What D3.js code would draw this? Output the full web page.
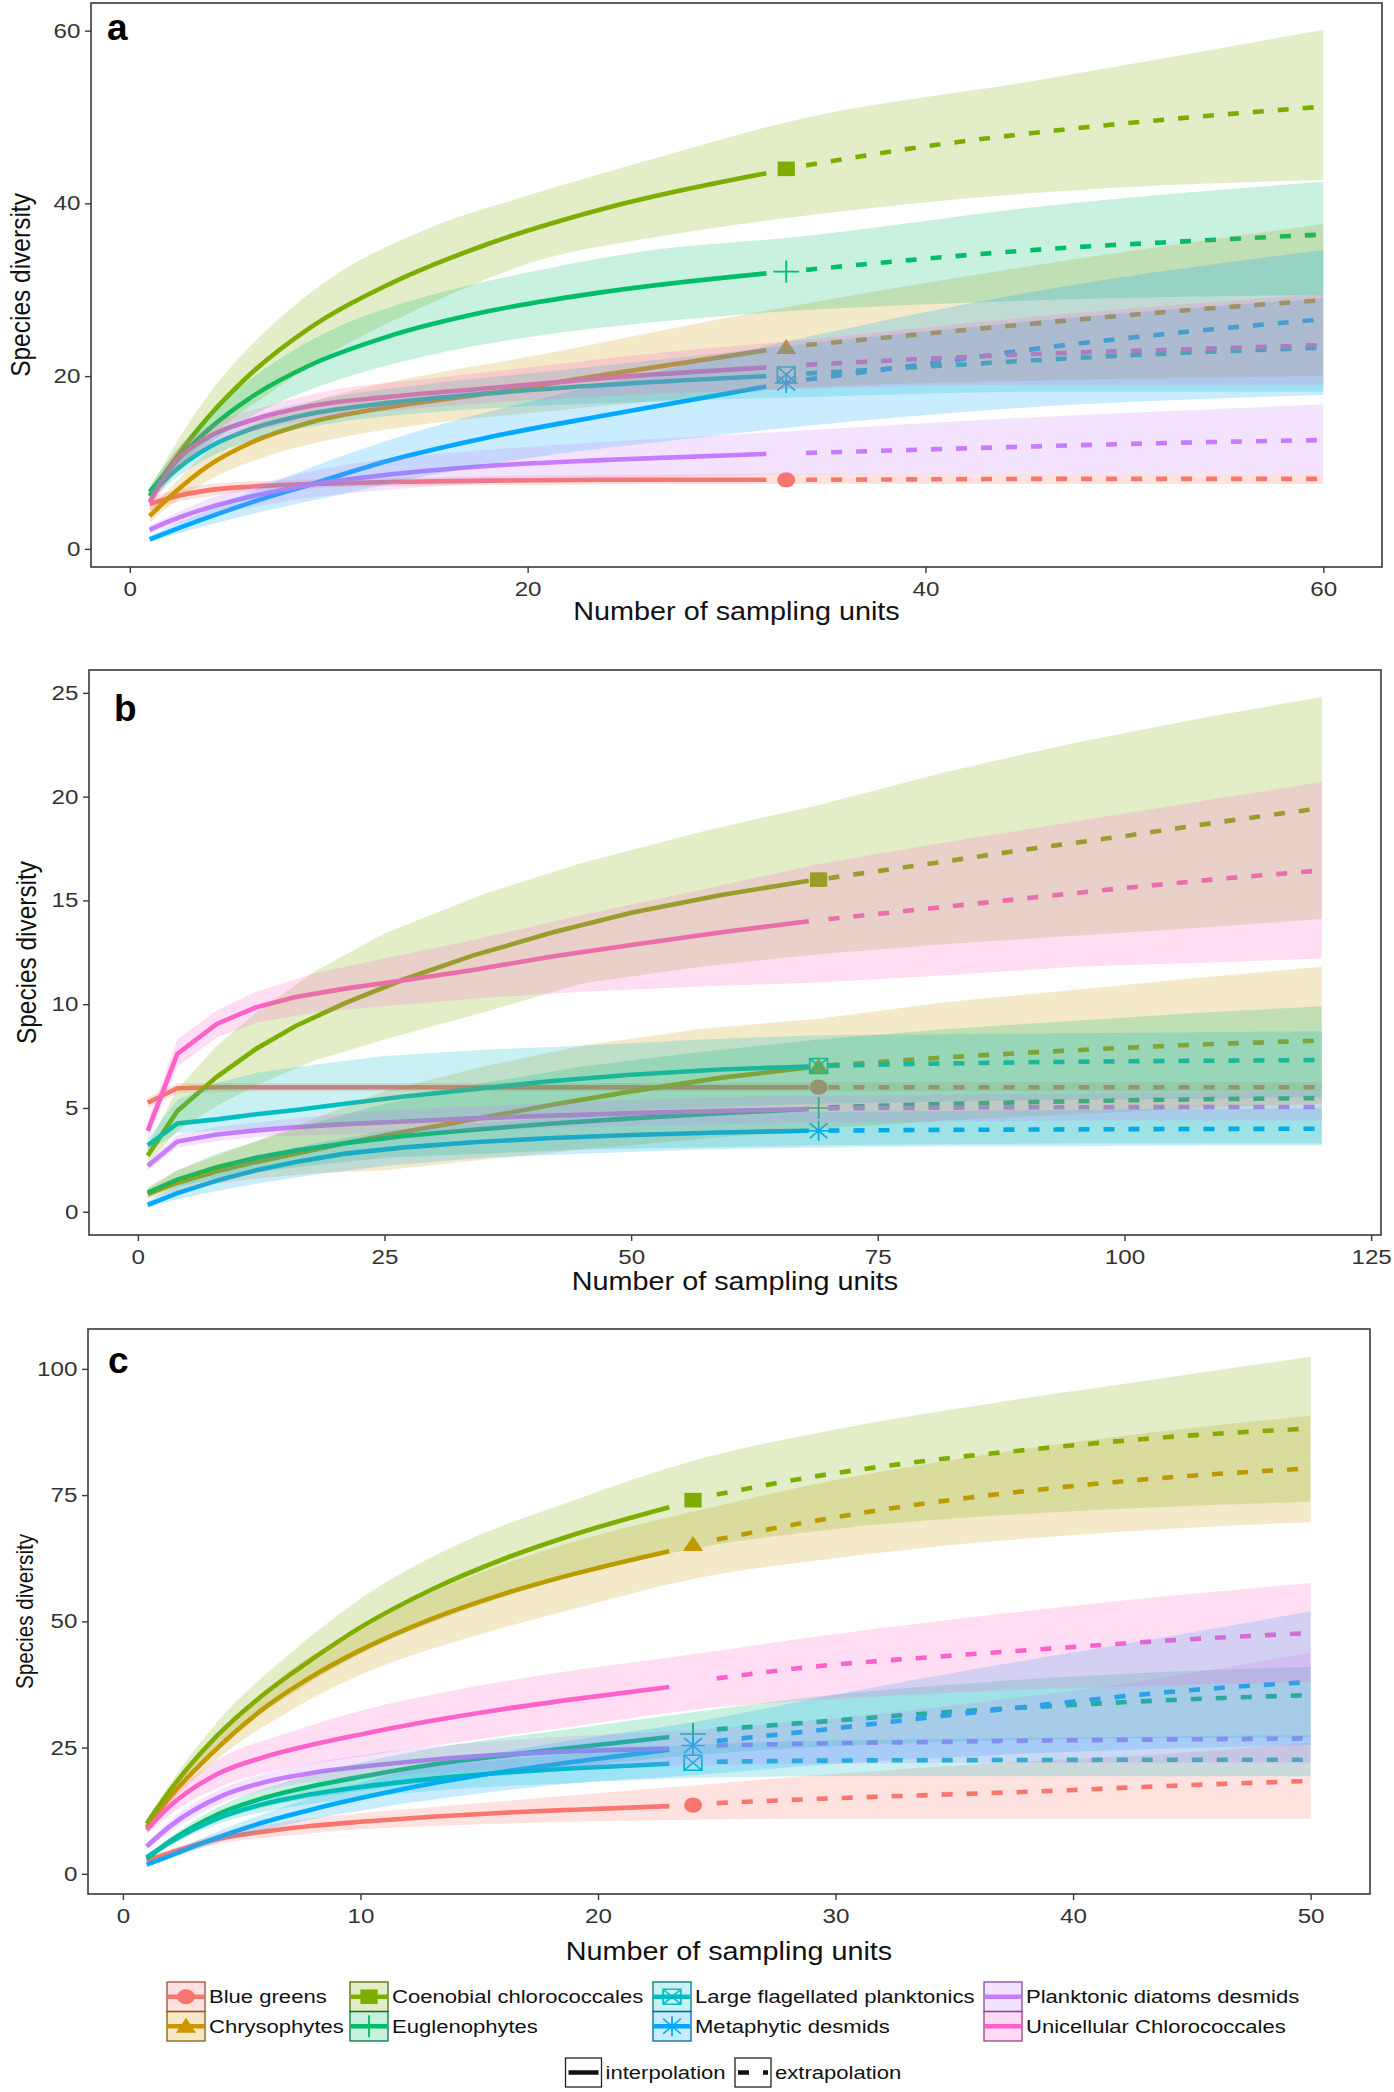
<!DOCTYPE html>
<html>
<head>
<meta charset="utf-8">
<script src="https://d3js.org/d3.v7.min.js"></script>
<style>
body { margin: 0; background: #fff; }
</style>
</head>
<body>
<script>
// groups, colours and observed-point shapes (ggplot default hue palette)
const groups = ["Blue greens", "Chrysophytes", "Coenobial chlorococcales", "Euglenophytes",
  "Large flagellated planktonics", "Metaphytic desmids", "Planktonic diatoms desmids", "Unicellular Chlorococcales"];
const colors = ["#F8766D", "#CD9600", "#7CAE00", "#00BE67", "#00BFC4", "#00A9FF", "#C77CFF", "#FF61CC"];
const shapes = ["circle", "triangle", "square", "plus", "boxcross", "asterisk", null, null];

// ---- panel a ----
const aObs = 33;
const aX = [1, 2, 4, 6, 9, 13, 18, 24, 32, 33, 34, 40, 46, 53, 60];
const aY = [
  [5.2, 5.9, 6.8, 7.2, 7.5, 7.75, 7.9, 8.0, 8.0, 8.0, 8.0, 8.05, 8.1, 8.1, 8.1],
  [3.8, 6.0, 9.7, 12.2, 14.6, 16.4, 18.0, 20.2, 23.0, 23.3, 23.6, 24.9, 26.2, 27.6, 28.8],
  [6.1, 9.5, 15.4, 20.1, 25.5, 30.6, 35.3, 39.5, 43.5, 44.0, 44.4, 46.6, 48.3, 49.9, 51.2],
  [6.6, 9.3, 13.9, 17.4, 21.2, 24.6, 27.5, 29.8, 31.9, 32.1, 32.3, 33.6, 34.7, 35.6, 36.4],
  [6.2, 8.5, 11.8, 13.8, 15.6, 16.9, 18.0, 19.0, 20.0, 20.2, 20.3, 21.1, 21.9, 22.7, 23.3],
  [1.1, 2.0, 3.7, 5.3, 7.4, 10.2, 12.9, 15.5, 18.8, 19.2, 19.6, 21.4, 23.3, 25.1, 26.6],
  [2.2, 3.2, 4.8, 6.0, 7.4, 8.6, 9.6, 10.3, 11.0, 11.0, 11.1, 11.5, 11.9, 12.3, 12.6],
  [5.4, 9.2, 13.0, 14.8, 16.5, 17.6, 18.6, 19.8, 21.0, 21.1, 21.3, 22.0, 22.6, 23.1, 23.6]
];
const aBandX = [1, 2, 4, 7, 10, 15, 20, 27, 33, 46, 60];
const aLow = [
  [4.4, 5.2, 6.1, 6.8, 7.1, 7.3, 7.4, 7.5, 7.5, 7.5, 7.5],
  [3.0, 5.0, 8.0, 10.8, 12.6, 14.5, 15.7, 17.2, 18.5, 19.5, 20.0],
  [5.3, 8.0, 12.8, 18.0, 22.5, 28.3, 33.0, 36.3, 38.3, 41.3, 42.7],
  [5.9, 8.2, 12.2, 16.4, 19.2, 22.4, 24.5, 26.4, 27.5, 28.8, 29.4],
  [5.5, 7.6, 10.6, 13.1, 14.5, 15.8, 16.5, 17.1, 17.5, 18.2, 18.2],
  [0.8, 1.5, 2.8, 4.5, 6.0, 8.5, 10.5, 12.5, 14.0, 16.5, 17.8],
  [1.8, 2.6, 3.8, 5.2, 6.2, 7.2, 7.8, 8.3, 8.6, 8.7, 8.7],
  [4.5, 8.0, 11.8, 14.0, 15.2, 16.4, 17.2, 18.0, 18.5, 19.0, 19.0]
];
const aHigh = [
  [6.0, 6.6, 7.5, 7.9, 8.1, 8.3, 8.5, 8.6, 8.7, 8.7, 8.7],
  [4.6, 7.0, 11.4, 15.2, 17.6, 20.2, 22.2, 25.4, 28.0, 33.0, 37.6],
  [6.9, 11.0, 18.0, 25.6, 31.2, 37.1, 40.9, 45.6, 49.4, 54.4, 60.1],
  [7.3, 10.4, 15.6, 21.2, 25.2, 29.3, 32.0, 34.8, 36.0, 39.7, 42.5],
  [6.9, 9.4, 13.0, 15.9, 17.5, 19.1, 20.3, 22.0, 23.5, 26.5, 29.0],
  [1.5, 2.6, 4.6, 7.5, 10.2, 14.0, 17.0, 20.8, 24.0, 30.0, 34.6],
  [2.7, 3.8, 5.8, 7.8, 9.4, 10.9, 11.8, 12.8, 13.6, 15.3, 16.7],
  [6.3, 10.4, 14.2, 16.6, 18.3, 19.7, 21.0, 22.8, 24.0, 27.0, 29.5]
];
const aXTicks = [0, 20, 40, 60];
const aYTicks = [0, 20, 40, 60];

// ---- panel b ----
const bObs = 69;
const bX = [1, 4, 8, 12, 16, 21, 27, 34, 42, 50, 59, 68, 69, 70, 80, 90, 100, 110, 120];
const bY = [
  [5.25, 5.95, 6.0, 6.0, 6.0, 6.0, 6.0, 6.0, 6.0, 6.0, 6.0, 6.0, 6.0, 6.0, 6.0, 6.0, 6.0, 6.0, 6.0],
  [0.85, 1.4, 1.95, 2.4, 2.8, 3.3, 3.85, 4.45, 5.15, 5.8, 6.45, 6.95, 7.0, 7.05, 7.38, 7.66, 7.9, 8.1, 8.25],
  [2.7, 4.85, 6.5, 7.85, 8.95, 10.05, 11.2, 12.35, 13.45, 14.4, 15.25, 15.95, 16.0, 16.07, 16.75, 17.45, 18.1, 18.8, 19.45],
  [0.92, 1.55, 2.15, 2.6, 2.95, 3.3, 3.65, 3.95, 4.25, 4.5, 4.75, 4.95, 5.0, 5.03, 5.17, 5.28, 5.37, 5.43, 5.48],
  [3.2, 4.25, 4.45, 4.7, 4.9, 5.2, 5.55, 5.9, 6.3, 6.6, 6.85, 7.0, 7.02, 7.04, 7.13, 7.2, 7.25, 7.28, 7.31],
  [0.33, 0.9, 1.5, 2.0, 2.4, 2.8, 3.1, 3.35, 3.55, 3.7, 3.82, 3.9, 3.9, 3.91, 3.94, 3.96, 3.98, 3.99, 4.0],
  [2.2, 3.38, 3.72, 3.92, 4.07, 4.22, 4.35, 4.5, 4.63, 4.75, 4.86, 4.95, 4.97, 4.98, 5.01, 5.03, 5.04, 5.05, 5.05],
  [3.9, 7.6, 9.05, 9.85, 10.35, 10.75, 11.15, 11.65, 12.3, 12.85, 13.45, 14.0, 14.05, 14.1, 14.6, 15.1, 15.6, 16.05, 16.45]
];
const bBandX = [1, 4, 8, 12, 18, 25, 35, 45, 57, 69, 82, 95, 108, 120];
const bLow = [
  [5.0, 5.7, 5.75, 5.8, 5.8, 5.8, 5.8, 5.8, 5.8, 5.8, 5.8, 5.8, 5.8, 5.8],
  [0.6, 1.0, 1.35, 1.6, 1.85, 2.0, 2.5, 3.0, 3.5, 4.0, 4.4, 4.7, 5.0, 5.2],
  [2.3, 3.9, 5.1, 6.1, 7.3, 8.3, 9.6, 11.0, 11.8, 12.4, 12.9, 13.3, 13.7, 14.1],
  [0.7, 1.2, 1.6, 1.9, 2.25, 2.6, 2.8, 3.0, 3.1, 3.2, 3.25, 3.3, 3.3, 3.3],
  [2.9, 3.8, 3.9, 4.0, 4.2, 4.4, 4.6, 4.8, 5.0, 5.2, 5.3, 5.4, 5.45, 5.5],
  [0.2, 0.6, 1.0, 1.35, 1.8, 2.2, 2.6, 2.8, 3.0, 3.1, 3.15, 3.15, 3.2, 3.2],
  [2.0, 3.1, 3.4, 3.6, 3.7, 3.8, 3.95, 4.1, 4.2, 4.3, 4.35, 4.4, 4.4, 4.4],
  [3.5, 7.0, 8.4, 9.1, 9.6, 9.9, 10.3, 10.6, 10.85, 11.05, 11.4, 11.8, 12.0, 12.2]
];
const bHigh = [
  [5.5, 6.2, 6.2, 6.2, 6.2, 6.2, 6.2, 6.2, 6.2, 6.25, 6.25, 6.25, 6.25, 6.25],
  [1.2, 2.0, 2.7, 3.4, 4.5, 5.8, 7.0, 8.0, 8.8, 9.3, 10.1, 10.7, 11.3, 11.8],
  [3.2, 5.9, 8.0, 9.6, 11.6, 13.4, 15.3, 16.8, 18.3, 19.6, 21.2, 22.6, 23.8, 24.8],
  [1.1, 2.0, 2.8, 3.4, 4.3, 5.2, 6.2, 7.0, 7.7, 8.3, 8.8, 9.2, 9.6, 9.9],
  [3.5, 5.4, 6.2, 6.7, 7.1, 7.5, 7.8, 8.0, 8.3, 8.5, 8.55, 8.6, 8.65, 8.7],
  [0.5, 1.3, 2.0, 2.7, 3.3, 3.9, 4.3, 4.6, 4.75, 4.8, 4.85, 4.9, 4.95, 5.0],
  [2.4, 3.7, 4.1, 4.3, 4.6, 4.9, 5.1, 5.3, 5.5, 5.6, 5.65, 5.7, 5.75, 5.8],
  [4.3, 8.3, 9.7, 10.6, 11.5, 12.2, 13.2, 14.3, 15.5, 16.75, 17.8, 18.8, 19.8, 20.7]
];
const bXTicks = [0, 25, 50, 75, 100, 125];
const bYTicks = [0, 5, 10, 15, 20, 25];

// ---- panel c ----
const cObs = 24;
const cX = [1, 2, 4, 6, 8, 10, 13, 16, 19, 23, 24, 25, 29, 34, 39, 44, 50];
const cY = [
  [2.6, 4.2, 6.9, 8.4, 9.5, 10.3, 11.3, 12.1, 12.7, 13.4, 13.6, 14.0, 14.8, 15.6, 16.4, 17.4, 18.4],
  [9.2, 15.3, 25.0, 33.0, 39.2, 44.3, 50.5, 55.4, 59.4, 63.9, 65.2, 66.2, 69.8, 73.5, 76.3, 78.5, 80.3],
  [9.9, 16.6, 27.5, 35.8, 42.6, 48.8, 56.3, 62.3, 67.2, 72.6, 74.0, 75.1, 78.6, 81.9, 84.4, 86.5, 88.2],
  [3.0, 6.5, 11.8, 15.1, 17.4, 19.2, 21.6, 23.4, 25.0, 27.1, 27.7, 28.6, 30.0, 31.8, 33.2, 34.4, 35.4],
  [3.3, 6.3, 11.0, 13.9, 15.8, 17.2, 18.8, 20.0, 20.9, 21.8, 22.0, 22.2, 22.4, 22.5, 22.55, 22.6, 22.6],
  [1.8, 3.6, 7.2, 10.3, 12.8, 15.0, 17.9, 20.2, 22.2, 24.6, 25.4, 26.3, 28.3, 31.0, 33.6, 36.0, 38.0],
  [5.4, 9.5, 15.1, 18.2, 20.0, 21.2, 22.6, 23.6, 24.3, 24.8, 25.0, 25.4, 25.8, 26.1, 26.4, 26.6, 26.8],
  [8.7, 13.5, 19.8, 23.2, 25.6, 27.6, 30.3, 32.6, 34.6, 37.0, 37.6, 38.7, 41.0, 42.9, 44.6, 46.2, 47.7]
];
const cBandX = [1, 2, 4, 7, 10, 14, 19, 24, 30, 37, 44, 50];
const cLow = [
  [2.2, 3.6, 5.9, 7.6, 8.8, 9.6, 10.3, 10.7, 10.9, 10.9, 10.9, 10.9],
  [8.4, 14.0, 22.8, 32.2, 39.4, 46.0, 52.5, 58.4, 62.5, 66.0, 68.3, 69.7],
  [9.0, 15.2, 25.2, 35.3, 43.6, 51.5, 59.0, 64.4, 68.3, 71.0, 72.7, 73.7],
  [2.6, 5.7, 10.4, 14.2, 16.4, 18.8, 21.2, 23.5, 25.3, 26.4, 26.9, 27.0],
  [2.9, 5.6, 9.8, 13.2, 15.0, 16.8, 18.0, 19.0, 19.3, 19.3, 19.3, 19.3],
  [1.4, 3.0, 6.2, 9.8, 12.5, 15.3, 18.0, 19.5, 21.8, 23.6, 24.8, 25.5],
  [4.8, 8.4, 13.7, 17.5, 18.9, 20.2, 21.0, 21.5, 21.8, 22.0, 22.0, 22.0],
  [7.8, 11.8, 17.0, 21.0, 23.2, 26.0, 29.2, 32.5, 34.6, 36.3, 37.3, 38.0]
];
const cHigh = [
  [3.0, 4.8, 7.9, 10.4, 12.0, 13.6, 15.6, 17.5, 19.8, 22.0, 23.8, 26.0],
  [10.1, 16.8, 27.3, 40.2, 48.8, 57.7, 65.8, 71.7, 78.0, 83.5, 87.8, 90.7],
  [10.8, 18.0, 30.2, 43.5, 54.5, 65.0, 74.0, 81.8, 88.0, 93.5, 98.3, 102.4],
  [3.4, 7.3, 13.2, 18.4, 22.0, 25.6, 28.8, 32.0, 35.5, 38.2, 40.0, 41.0],
  [3.7, 7.0, 12.2, 16.6, 19.5, 21.7, 23.8, 25.5, 26.4, 26.9, 27.2, 27.5],
  [2.2, 4.2, 8.4, 13.6, 18.0, 22.4, 26.5, 30.0, 35.5, 41.5, 47.0, 52.0],
  [6.0, 10.6, 16.5, 21.0, 23.5, 25.6, 27.3, 28.5, 30.8, 34.5, 39.0, 43.9],
  [9.6, 15.2, 22.6, 28.0, 32.3, 36.4, 40.3, 43.5, 47.5, 51.5, 55.0, 57.6]
];
const cXTicks = [0, 10, 20, 30, 40, 50];
const cYTicks = [0, 25, 50, 75, 100];

const xTitle = "Number of sampling units";
const yTitle = "Species diversity";
const methodLabels = ["interpolation", "extrapolation"];

const FONT = '"Liberation Sans", Arial, Helvetica, sans-serif';
const SX = 1.18; // the original figure is a little stretched sideways

const svg = d3.select("body").append("svg")
  .attr("width", 1394)
  .attr("height", 2092)
  .style("font-family", FONT);

function marker(g, shape, color) {
  if (shape == "circle") {
    g.append("circle").attr("r", 7.6).attr("fill", color);
  } else if (shape == "triangle") {
    g.append("path").attr("d", "M0,-8.5L8.5,6.5L-8.5,6.5Z").attr("fill", color);
  } else if (shape == "square") {
    g.append("rect").attr("x", -7.3).attr("y", -7.3).attr("width", 14.6).attr("height", 14.6).attr("fill", color);
  } else if (shape == "plus") {
    g.append("path").attr("d", "M-11,0H11M0,-11V11")
      .attr("stroke", color).attr("stroke-width", 1.6).attr("fill", "none");
  } else if (shape == "boxcross") {
    g.append("path").attr("d", "M-7.5,-7.5H7.5V7.5H-7.5ZM-7.5,-7.5L7.5,7.5M7.5,-7.5L-7.5,7.5")
      .attr("stroke", color).attr("stroke-width", 1.5).attr("fill", "none");
  } else if (shape == "asterisk") {
    g.append("path").attr("d", "M-10,0H10M0,-10V10M-7.5,-7.5L7.5,7.5M7.5,-7.5L-7.5,7.5")
      .attr("stroke", color).attr("stroke-width", 1.5).attr("fill", "none");
  }
}

const panels = [
  { label: "a", obs: aObs, X: aX, Y: aY, BX: aBandX, LO: aLow, HI: aHigh, xt: aXTicks, yt: aYTicks,
    box: [91, 3, 1382, 567], xd: [-1.95, 62.95], yd: [-2.1, 63.2], curve: d3.curveMonotoneX,
    lab: [107, 40], xTitleY: 620, yTitleX: 30, yTitleSize: 24.5 },
  // panel b curves are drawn as straight segments between knots, like the original
  { label: "b", obs: bObs, X: bX, Y: bY, BX: bBandX, LO: bLow, HI: bHigh, xt: bXTicks, yt: bYTicks,
    box: [89, 670, 1381, 1235], xd: [-4.95, 126.0], yd: [-1.12, 26.1], curve: d3.curveLinear,
    lab: [114, 721], xTitleY: 1290, yTitleX: 36, yTitleSize: 24.4 },
  { label: "c", obs: cObs, X: cX, Y: cY, BX: cBandX, LO: cLow, HI: cHigh, xt: cXTicks, yt: cYTicks,
    box: [88, 1329, 1370, 1894], xd: [-1.47, 52.5], yd: [-4.0, 107.9], curve: d3.curveMonotoneX,
    lab: [108, 1373], xTitleY: 1960, yTitleX: 33, yTitleSize: 20.7 }
];

panels.forEach(p => {
  const x = d3.scaleLinear().domain(p.xd).range([p.box[0], p.box[2]]);
  const y = d3.scaleLinear().domain(p.yd).range([p.box[3], p.box[1]]);
  const g = svg.append("g");
  const iObs = p.X.indexOf(p.obs);

  const line = d3.line().x(d => x(d[0])).y(d => y(d[1])).curve(p.curve);
  const area = d3.area().x(d => x(d[0])).y0(d => y(d[1])).y1(d => y(d[2])).curve(p.curve);

  // observed points first, then lines, ribbons on top (like ggiNEXT)
  groups.forEach((name, k) => {
    if (!shapes[k]) return;
    const m = g.append("g")
      .attr("transform", "translate(" + x(p.obs) + "," + y(p.Y[k][iObs]) + ") scale(" + SX + ",1)");
    marker(m, shapes[k], colors[k]);
  });

  groups.forEach((name, k) => {
    const pts = p.X.map((v, i) => [v, p.Y[k][i]]);
    g.append("path")
      .attr("d", line(pts.slice(0, iObs)))
      .attr("fill", "none").attr("stroke", colors[k]).attr("stroke-width", 4.6);
    g.append("path")
      .attr("d", line(pts.slice(iObs + 1)))
      .attr("fill", "none").attr("stroke", colors[k]).attr("stroke-width", 4.6)
      .attr("stroke-dasharray", "11,14");
  });

  groups.forEach((name, k) => {
    const pts = p.BX.map((v, i) => [v, p.LO[k][i], p.HI[k][i]]);
    g.append("path")
      .attr("d", area(pts))
      .attr("fill", colors[k]).attr("fill-opacity", 0.21);
  });

  // frame
  svg.append("rect")
    .attr("x", p.box[0]).attr("y", p.box[1])
    .attr("width", p.box[2] - p.box[0]).attr("height", p.box[3] - p.box[1])
    .attr("fill", "none").attr("stroke", "#3a3a3a").attr("stroke-width", 1.6);

  // axes
  const gx = svg.append("g")
    .attr("transform", "translate(0," + p.box[3] + ")")
    .call(d3.axisBottom(x).tickValues(p.xt).tickSize(6).tickPadding(8));
  const gy = svg.append("g")
    .attr("transform", "translate(" + p.box[0] + ",0)")
    .call(d3.axisLeft(y).tickValues(p.yt).tickSize(6).tickPadding(3));
  [gx, gy].forEach(ax => {
    ax.select(".domain").remove();
    ax.attr("font-family", FONT).attr("font-size", 20.5);
    ax.selectAll(".tick line").attr("stroke", "#3a3a3a").attr("stroke-width", 1.4);
    ax.selectAll(".tick text").attr("fill", "#333").attr("transform", "scale(" + SX + ",1)");
  });

  // titles
  svg.append("text")
    .attr("transform", "translate(" + ((p.box[0] + p.box[2]) / 2) + "," + p.xTitleY + ") scale(1.13,1)")
    .attr("text-anchor", "middle").attr("font-size", 25.5).attr("fill", "#111")
    .text(xTitle);
  svg.append("text")
    .attr("transform", "translate(" + p.yTitleX + "," + ((p.box[1] + p.box[3]) / 2) + ") rotate(-90) scale(1,1.15)")
    .attr("text-anchor", "middle").attr("font-size", p.yTitleSize).attr("fill", "#111")
    .text(yTitle);
  svg.append("text")
    .attr("x", p.lab[0]).attr("y", p.lab[1])
    .attr("font-size", 37).attr("font-weight", "bold").attr("fill", "#000")
    .text(p.label);
});

// ---- legend ----
const legCols = [167, 350, 653, 984];
const legRows = [1982, 2011.5];
const keyW = 38, keyH = 29.5;
const legend = svg.append("g");

groups.forEach((name, k) => {
  const kx = legCols[Math.floor(k / 2)];
  const ky = legRows[k % 2];
  const key = legend.append("g").attr("transform", "translate(" + kx + "," + ky + ")");
  key.append("rect").attr("width", keyW).attr("height", keyH)
    .attr("fill", colors[k]).attr("fill-opacity", 0.22)
    .attr("stroke", d3.color(colors[k]).darker(1.3)).attr("stroke-width", 1.3);
  key.append("line").attr("x1", 1).attr("x2", keyW - 1)
    .attr("y1", keyH / 2).attr("y2", keyH / 2)
    .attr("stroke", colors[k]).attr("stroke-width", 4.5);
  if (shapes[k]) {
    const m = key.append("g").attr("transform", "translate(" + keyW / 2 + "," + keyH / 2 + ") scale(" + SX + ",1)");
    marker(m, shapes[k], colors[k]);
  }
  legend.append("text")
    .attr("transform", "translate(" + (kx + keyW + 4) + "," + (ky + keyH / 2 + 6.5) + ") scale(" + SX + ",1)")
    .attr("font-size", 18.7).attr("fill", "#111")
    .text(name);
});

const methodX = [565.5, 735];
methodLabels.forEach((name, j) => {
  const kx = methodX[j], ky = 2058;
  const key = legend.append("g").attr("transform", "translate(" + kx + "," + ky + ")");
  key.append("rect").attr("width", 36).attr("height", 29)
    .attr("fill", "#fff").attr("stroke", "#222").attr("stroke-width", 1.3);
  key.append("line").attr("x1", 3).attr("x2", 33).attr("y1", 14.5).attr("y2", 14.5)
    .attr("stroke", "#111").attr("stroke-width", 4.5)
    .attr("stroke-dasharray", j == 0 ? null : "11,14");
  legend.append("text")
    .attr("transform", "translate(" + (kx + 40) + "," + (ky + 21) + ") scale(" + SX + ",1)")
    .attr("font-size", 18.7).attr("fill", "#111")
    .text(name);
});
</script>
</body>
</html>
